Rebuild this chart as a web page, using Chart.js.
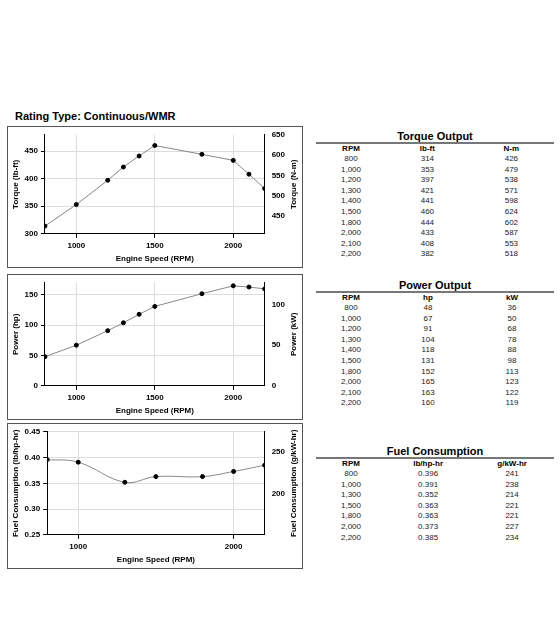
<!DOCTYPE html>
<html><head><meta charset="utf-8">
<script src="https://cdn.jsdelivr.net/npm/chart.js@4"></script>
<style>
body{margin:0;background:#fff;font-family:"Liberation Sans",Arial,sans-serif;width:560px;height:625px;position:relative;overflow:hidden}
.box{position:absolute;left:7px;width:296px;border:1px solid #555;box-sizing:border-box}
.title{position:absolute;left:15px;top:110px;font-weight:bold;font-size:11px}
table{position:absolute;left:316px;width:238px;border-collapse:collapse;font-size:8px}
table caption{font-weight:bold;font-size:11px;border-bottom:2px solid #777;line-height:12px}
th{font-weight:bold;font-size:8px;line-height:10px;padding:0}
td{text-align:center;line-height:10.6px;padding:0;color:#222}
th:nth-child(1),td:nth-child(1){width:70px}
</style></head><body>
<div class="title">Rating Type: Continuous/WMR</div>
<div class="box" style="top:126px;height:142px"><canvas id="c1"></canvas></div>
<div class="box" style="top:274px;height:146px"><canvas id="c2"></canvas></div>
<div class="box" style="top:423px;height:146px"><canvas id="c3"></canvas></div>
<table id="t1" style="top:130px"></table>
<table id="t2" style="top:279px"></table>
<table id="t3" style="top:445px"></table>
<script>
const torqueRpm=[800,1000,1200,1300,1400,1500,1800,2000,2100,2200];
const torqueLbft=[314,353,397,421,441,460,444,433,408,382];
const torqueNm=[426,479,538,571,598,624,602,587,553,518];
const powerRpm=[800,1000,1200,1300,1400,1500,1800,2000,2100,2200];
const powerHp=[48,67,91,104,118,131,152,165,163,160];
const powerKw=[36,50,68,78,88,98,113,123,122,119];
const fuelRpm=[800,1000,1300,1500,1800,2000,2200];
const fuelLb=[0.396,0.391,0.352,0.363,0.363,0.373,0.385];
const fuelG=[241,238,214,221,221,227,234];
const fmt=n=>n.toLocaleString('en-US');

function table(id,title,h2,h3,r,a,b,dec){
  let s=`<caption>${title}</caption><tr><th>RPM</th><th>${h2}</th><th>${h3}</th></tr>`;
  r.forEach((v,i)=>{s+=`<tr><td>${fmt(v)}</td><td>${dec?a[i].toFixed(3):a[i]}</td><td>${b[i]}</td></tr>`});
  document.getElementById(id).innerHTML=s;
}
table('t1','Torque Output','lb-ft','N-m',torqueRpm,torqueLbft,torqueNm);
table('t2','Power Output','hp','kW',powerRpm,powerHp,powerKw);
table('t3','Fuel Consumption','lb/hp-hr','g/kW-hr',fuelRpm,fuelLb,fuelG,true);

const F={family:'"Liberation Sans",Arial',size:8,weight:'bold'};
const rightTitle={id:'rt',afterDraw(ch,a,o){const c=ch.ctx,ca=ch.chartArea;c.save();c.font='bold 8px "Liberation Sans",Arial';c.fillStyle='#000';
  c.translate(ch.width-8,(ca.top+ca.bottom)/2);c.rotate(-Math.PI/2);c.textAlign='center';c.textBaseline='middle';c.fillText(ch.options.plugins.rt.text,0,0);c.restore();}};
function mk(id,h,xs,ys,xticks,lmin,lmax,lstep,ltitle,rmin,rmax,rstep,rtitle,tension,ldec){
  const c=document.getElementById(id);c.width=294;c.height=h;c.style.width='294px';c.style.height=h+'px';
  new Chart(c,{type:'line',data:{datasets:[{data:xs.map((x,i)=>({x,y:ys[i]})),borderColor:'#888',borderWidth:1,
    pointBackgroundColor:'#000',pointBorderColor:'#000',pointRadius:2,tension}]},
    plugins:[rightTitle],
    options:{responsive:false,animation:false,plugins:{legend:{display:false},tooltip:{enabled:false},rt:{text:rtitle}},
    layout:{padding:{top:6,right:14,left:2,bottom:2}},
    scales:{
      x:{type:'linear',min:800,max:2200,afterBuildTicks:a=>{a.ticks=xticks.map(v=>({value:v}))},
        ticks:{font:F,color:'#000',maxRotation:0,callback:v=>String(v)},grid:{color:'#ddd',tickColor:'#000',tickLength:4},border:{color:'#000'},
        title:{display:true,text:'Engine Speed (RPM)',font:F,color:'#000',padding:1}},
      y:{position:'left',min:lmin,max:lmax,afterBuildTicks:a=>{const t=[];for(let v=Math.ceil(lmin/lstep-1e-9)*lstep;v<=lmax+1e-9;v+=lstep)t.push({value:+v.toFixed(4)});a.ticks=t},
        ticks:{font:F,color:'#000',callback:v=>ldec?v.toFixed(2):v},grid:{color:'#ddd',tickColor:'#000',tickLength:4},border:{color:'#000'},
        title:{display:true,text:ltitle,font:F,color:'#000',padding:1}},
      y2:{position:'right',min:rmin,max:rmax,afterBuildTicks:a=>{const t=[];for(let v=Math.ceil(rmin/rstep-1e-9)*rstep;v<=rmax+1e-9;v+=rstep)t.push({value:v});a.ticks=t},
        ticks:{font:F,color:'#000'},grid:{display:false,tickColor:'#000',tickLength:4},border:{color:'#000'}}
    }}});
}
mk('c1',140,torqueRpm,torqueLbft,[1000,1500,2000],300,479.4,50,'Torque (lb-ft)',406.75,650,50,'Torque (N-m)',0);
mk('c2',144,powerRpm,powerHp,[1000,1500,2000],0,170,50,'Power (hp)',0,126.8,50,'Power (kW)',0);
mk('c3',144,fuelRpm,fuelLb,[1000,2000],0.25,0.45,0.05,'Fuel Consumption (lb/hp-hr)',152.1,273.7,50,'Fuel Consumption (g/kW-hr)',0.4,true);
</script></body></html>
